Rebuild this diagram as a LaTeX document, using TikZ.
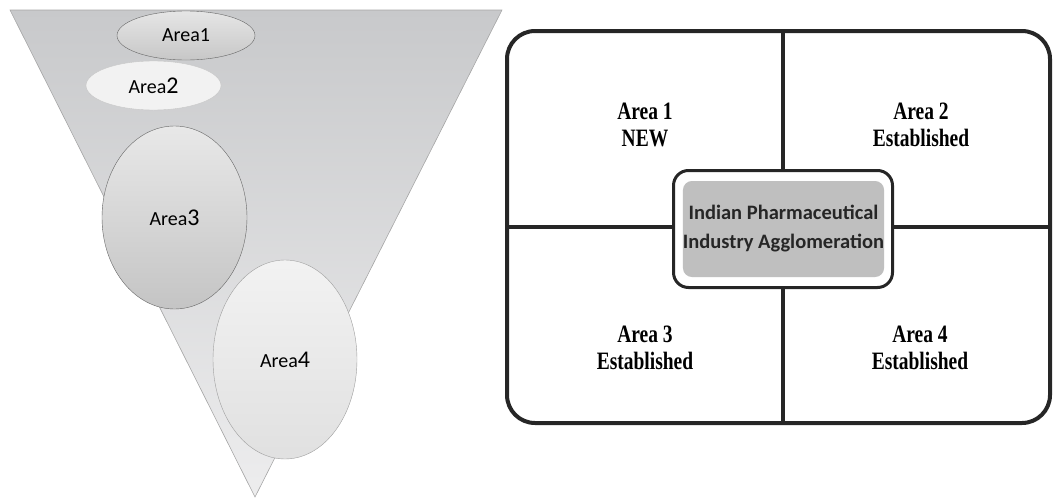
\documentclass[tikz,border=0pt]{standalone}
\usepackage{fontspec}
\setmainfont{Carlito}
\newfontfamily\condserif[FakeStretch=0.78]{Liberation Serif}
\usetikzlibrary{shapes.geometric}
\definecolor{funtop}{HTML}{C8C9CB}
\definecolor{funbot}{HTML}{EDEDEE}
\definecolor{midgray}{HTML}{BFBFBF}
\tikzset{
  area/.style={ellipse, inner sep=0pt, font=\fontsize{20}{22}\selectfont},
  quad/.style={align=center, font=\condserif\bfseries\fontsize{25}{27}\selectfont},
  frameline/.style={line width=4pt, draw=black!85},
}
\newcommand{\bigdig}[1]{{\fontsize{24}{24}\selectfont #1}}
\begin{document}
\begin{tikzpicture}[x=1pt,y=-1pt]
\useasboundingbox (0,0) rectangle (1054,498);
% funnel
\path[draw=black!35, line width=0.6pt, top color=funtop, bottom color=funbot]
  (10,10) -- (502,10) -- (255,497) -- cycle;
% ellipses
\node[area, draw=black!60, top color=black!10, bottom color=black!22,
  minimum width=138pt, minimum height=49pt] (a1) at (186,35.5) {Area1};
\node[area, draw=black!22, fill=black!5,
  minimum width=135pt, minimum height=49pt] (a2) at (153.5,85.5) {Area\bigdig{2}};
\node[area, draw=black!60, top color=black!9, bottom color=black!23,
  minimum width=145pt, minimum height=183pt] (a3) at (174.5,217.5) {Area\bigdig{3}};
\node[area, draw=black!38, top color=black!5, bottom color=black!12,
  minimum width=144pt, minimum height=199pt] (a4) at (285,359.5) {Area\bigdig{4}};
% right quadrant frame
\node[frameline, rounded corners=28pt, minimum width=543pt, minimum height=392pt,
  inner sep=0pt, outer sep=0pt] (frame) at (778.5,227) {};
\coordinate (vtop) at (783,31);
\coordinate (vbot) at (783,423);
\draw[line width=3.2pt, black!85] (vtop) -- (vbot);
\draw[line width=3.2pt, black!85] (frame.west) -- (frame.east);
% centre box
\node[draw=black!85, line width=3pt, fill=white, rounded corners=15pt,
  minimum width=219pt, minimum height=117pt, inner sep=0pt] (cbox) at (783,229) {};
\node[fill=midgray, rounded corners=9pt, minimum width=197pt, minimum height=96pt,
  inner sep=0pt, align=center, font=\bfseries\fontsize{20.5}{29}\selectfont, text=black!85]
  (core) at (783.5,229) {Indian Pharmaceutical\\Industry Agglomeration};
% quadrant labels
\node[quad] (q1) at (645,125) {Area 1\\NEW};
\node[quad] (q2) at (921,125) {Area 2\\Established};
\node[quad] (q3) at (645,348) {Area 3\\Established};
\node[quad] (q4) at (920,348) {Area 4\\Established};
\end{tikzpicture}
\end{document}
